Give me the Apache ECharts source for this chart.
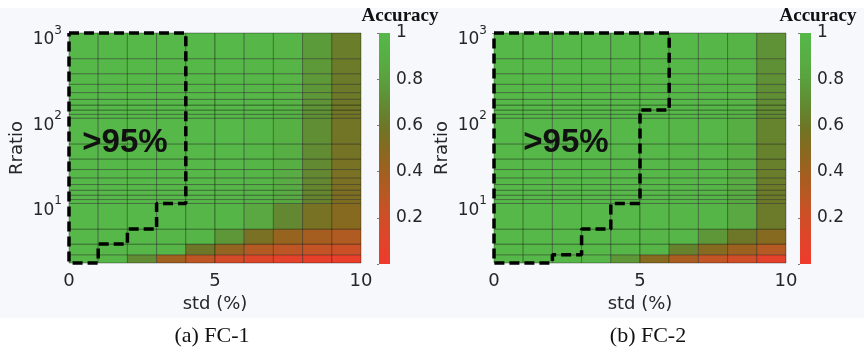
<!DOCTYPE html>
<html>
<head>
<meta charset="utf-8">
<script src="https://cdn.jsdelivr.net/npm/echarts@6/dist/echarts.min.js"></script>
<style>
html,body{margin:0;padding:0;background:#fff;}
#main{width:864px;height:350px;}
</style>
</head>
<body>
<div id="main"></div>
<script>
// std (%) bin edges, 1 column per percent
const stdEdges = [0, 1, 2, 3, 4, 5, 6, 7, 8, 9, 10];
// Rratio row edges (bottom -> top)
const ratioEdges = [2, 2.5, 3.333, 5, 10, 11.11, 12.5, 14.29, 16.67, 20, 25, 33.33, 50,
    100, 111.1, 125, 142.9, 166.7, 200, 250, 333.3, 500, 1000];

// accuracy per cell, one row per ratio bin (bottom -> top), one value per std bin
const fc1Acc = [
    [1.00, 0.98, 0.70, 0.40, 0.28, 0.17, 0.12, 0.08, 0.06, 0.04],
    [1.00, 1.00, 0.99, 0.97, 0.60, 0.45, 0.33, 0.28, 0.25, 0.22],
    [1.00, 1.00, 1.00, 0.99, 0.97, 0.75, 0.55, 0.44, 0.38, 0.34],
    [1.00, 1.00, 1.00, 1.00, 0.99, 0.97, 0.85, 0.68, 0.56, 0.50],
    [1.00, 1.00, 1.00, 1.00, 1.00, 0.99, 0.96, 0.86, 0.66, 0.53],
    [1.00, 1.00, 1.00, 1.00, 1.00, 0.99, 0.96, 0.86, 0.66, 0.53],
    [1.00, 1.00, 1.00, 1.00, 1.00, 0.99, 0.96, 0.87, 0.67, 0.54],
    [1.00, 1.00, 1.00, 1.00, 1.00, 0.99, 0.96, 0.87, 0.67, 0.54],
    [1.00, 1.00, 1.00, 1.00, 1.00, 0.99, 0.97, 0.88, 0.68, 0.55],
    [1.00, 1.00, 1.00, 1.00, 1.00, 0.99, 0.97, 0.88, 0.68, 0.55],
    [1.00, 1.00, 1.00, 1.00, 1.00, 1.00, 0.97, 0.89, 0.69, 0.56],
    [1.00, 1.00, 1.00, 1.00, 1.00, 1.00, 0.97, 0.90, 0.70, 0.57],
    [1.00, 1.00, 1.00, 1.00, 1.00, 1.00, 0.97, 0.91, 0.71, 0.58],
    [1.00, 1.00, 1.00, 1.00, 1.00, 1.00, 0.98, 0.93, 0.73, 0.59],
    [1.00, 1.00, 1.00, 1.00, 1.00, 1.00, 0.98, 0.93, 0.73, 0.59],
    [1.00, 1.00, 1.00, 1.00, 1.00, 1.00, 0.98, 0.93, 0.74, 0.60],
    [1.00, 1.00, 1.00, 1.00, 1.00, 1.00, 0.98, 0.94, 0.74, 0.60],
    [1.00, 1.00, 1.00, 1.00, 1.00, 1.00, 0.98, 0.94, 0.75, 0.61],
    [1.00, 1.00, 1.00, 1.00, 1.00, 1.00, 0.98, 0.94, 0.75, 0.61],
    [1.00, 1.00, 1.00, 1.00, 1.00, 1.00, 0.98, 0.95, 0.76, 0.62],
    [1.00, 1.00, 1.00, 1.00, 1.00, 1.00, 0.98, 0.95, 0.76, 0.62],
    [1.00, 1.00, 1.00, 1.00, 1.00, 1.00, 0.98, 0.95, 0.77, 0.63]
];
const fc2Acc = [
    [1.00, 1.00, 0.99, 0.98, 0.75, 0.50, 0.36, 0.26, 0.20, 0.08],
    [1.00, 1.00, 1.00, 1.00, 0.99, 0.97, 0.65, 0.50, 0.41, 0.32],
    [1.00, 1.00, 1.00, 1.00, 1.00, 0.99, 0.98, 0.75, 0.60, 0.50],
    [1.00, 1.00, 1.00, 1.00, 1.00, 1.00, 0.99, 0.97, 0.85, 0.62],
    [1.00, 1.00, 1.00, 1.00, 1.00, 1.00, 0.99, 0.97, 0.86, 0.61],
    [1.00, 1.00, 1.00, 1.00, 1.00, 1.00, 0.99, 0.97, 0.86, 0.61],
    [1.00, 1.00, 1.00, 1.00, 1.00, 1.00, 0.99, 0.97, 0.87, 0.62],
    [1.00, 1.00, 1.00, 1.00, 1.00, 1.00, 0.99, 0.97, 0.87, 0.62],
    [1.00, 1.00, 1.00, 1.00, 1.00, 1.00, 0.99, 0.98, 0.88, 0.63],
    [1.00, 1.00, 1.00, 1.00, 1.00, 1.00, 0.99, 0.98, 0.88, 0.63],
    [1.00, 1.00, 1.00, 1.00, 1.00, 1.00, 0.99, 0.98, 0.89, 0.64],
    [1.00, 1.00, 1.00, 1.00, 1.00, 1.00, 0.99, 0.98, 0.89, 0.65],
    [1.00, 1.00, 1.00, 1.00, 1.00, 1.00, 0.99, 0.98, 0.90, 0.66],
    [1.00, 1.00, 1.00, 1.00, 1.00, 1.00, 1.00, 0.98, 0.93, 0.69],
    [1.00, 1.00, 1.00, 1.00, 1.00, 1.00, 1.00, 0.98, 0.93, 0.69],
    [1.00, 1.00, 1.00, 1.00, 1.00, 1.00, 1.00, 0.98, 0.94, 0.70],
    [1.00, 1.00, 1.00, 1.00, 1.00, 1.00, 1.00, 0.99, 0.94, 0.70],
    [1.00, 1.00, 1.00, 1.00, 1.00, 1.00, 1.00, 0.99, 0.95, 0.71],
    [1.00, 1.00, 1.00, 1.00, 1.00, 1.00, 1.00, 0.99, 0.95, 0.71],
    [1.00, 1.00, 1.00, 1.00, 1.00, 1.00, 1.00, 0.99, 0.95, 0.72],
    [1.00, 1.00, 1.00, 1.00, 1.00, 1.00, 1.00, 0.99, 0.96, 0.72],
    [1.00, 1.00, 1.00, 1.00, 1.00, 1.00, 1.00, 0.99, 0.96, 0.73]
];

// >95% region outlines, [std, ratio]
const fc1Border = [[0, 1000], [4, 1000], [4, 10], [3, 10], [3, 5], [2, 5], [2, 3.333],
    [1, 3.333], [1, 2], [0, 2], [0, 1000]];
const fc2Border = [[0, 1000], [6, 1000], [6, 125], [5, 125], [5, 10], [4, 10], [4, 5],
    [3, 5], [3, 2.5], [2, 2.5], [2, 2], [0, 2], [0, 1000]];

const xTicks = [0, 5, 10];
const barRange = [0, 1];
const accColors = ['#ee3b2c', '#e1442a', '#cf4e27', '#b95823', '#a0601f', '#866a20',
    '#6d7727', '#618c33', '#5aa13d', '#57af44', '#56b848'];

const labelFont = 'DejaVu Sans';
const labelColor = '#262626';

function toCells(acc) {
    const cells = [];
    acc.forEach((row, r) => {
        row.forEach((v, c) => {
            cells.push([stdEdges[c], stdEdges[c + 1], ratioEdges[r], ratioEdges[r + 1], v]);
        });
    });
    return cells;
}

function renderCell(params, api) {
    const p0 = api.coord([api.value(0), api.value(3)]);
    const p1 = api.coord([api.value(1), api.value(2)]);
    return {
        type: 'rect',
        shape: {x: p0[0], y: p0[1], width: p1[0] - p0[0], height: p1[1] - p0[1]},
        style: {fill: api.visual('color'), stroke: 'rgba(0,0,0,0.32)', lineWidth: 1}
    };
}

function renderBar(params, api) {
    const p0 = api.coord([api.value(0), api.value(3)]);
    const p1 = api.coord([api.value(1), api.value(2)]);
    const stops = accColors.map((c, i) => ({offset: i / (accColors.length - 1), color: c}));
    return {
        type: 'rect',
        shape: {x: p0[0], y: p0[1], width: p1[0] - p0[0], height: p1[1] - p0[1]},
        style: {fill: new echarts.graphic.LinearGradient(0, 1, 0, 0, stops)}
    };
}

function heatX(gridIndex) {
    return {
        gridIndex: gridIndex, type: 'value', min: 0, max: 10, interval: 5,
        name: 'std (%)', nameLocation: 'middle', nameGap: 30,
        nameTextStyle: {fontFamily: labelFont, fontSize: 18, color: labelColor},
        axisLine: {show: false}, axisTick: {show: false}, splitLine: {show: false},
        axisLabel: {margin: 9, fontFamily: labelFont, fontSize: 18, color: labelColor,
            formatter: v => xTicks.indexOf(v) >= 0 ? String(v) : ''}
    };
}

function heatY(gridIndex) {
    return {
        gridIndex: gridIndex, type: 'log', logBase: 10, min: 2, max: 1000,
        name: 'Rratio', nameLocation: 'middle', nameGap: 43,
        nameTextStyle: {fontFamily: labelFont, fontSize: 18, color: labelColor},
        axisLine: {show: false}, axisTick: {show: false}, splitLine: {show: false},
        axisLabel: {
            margin: 7, padding: [7, 0, 0, 0],
            formatter: v => {
                const e = Math.log10(v);
                return Math.abs(e - Math.round(e)) < 1e-6 ? '{b|10}{sup|' + Math.round(e) + '}' : '';
            },
            rich: {
                b: {fontFamily: labelFont, fontSize: 17, color: labelColor, lineHeight: 24, verticalAlign: 'bottom'},
                sup: {fontFamily: labelFont, fontSize: 12, color: labelColor, lineHeight: 24, verticalAlign: 'top'}
            }
        }
    };
}

function barX(gridIndex) {
    return {gridIndex: gridIndex, type: 'value', min: 0, max: 1, show: false};
}

function barY(gridIndex) {
    return {
        gridIndex: gridIndex, type: 'value', min: 0, max: 1, interval: 0.2, position: 'right',
        axisLine: {show: false}, splitLine: {show: false},
        axisTick: {show: true, inside: true, length: 2, lineStyle: {color: '#777'}},
        axisLabel: {margin: 6, fontFamily: labelFont, fontSize: 17, color: labelColor,
            formatter: v => v === 0 ? '' : String(v)}
    };
}

function outline(data, xi, yi) {
    return {
        type: 'line', xAxisIndex: xi, yAxisIndex: yi, data: data, clip: false,
        symbol: 'none', silent: true, z: 5,
        lineStyle: {color: '#000', width: 3.5, type: [10, 5]}
    };
}

const chart = echarts.init(document.getElementById('main'), null, {renderer: 'canvas'});

const option = {
    backgroundColor: '#fff',
    animation: false,
    grid: [
        {left: 69, top: 33, width: 292, height: 230},
        {left: 379, top: 33, width: 11, height: 231},
        {left: 494, top: 33, width: 292, height: 230},
        {left: 800, top: 33, width: 11, height: 231}
    ],
    xAxis: [heatX(0), barX(1), heatX(2), barX(3)],
    yAxis: [heatY(0), barY(1), heatY(2), barY(3)],
    visualMap: {
        type: 'continuous', show: false, seriesIndex: [0, 3], dimension: 4,
        min: 0, max: 1, inRange: {color: accColors}
    },
    series: [
        {type: 'custom', xAxisIndex: 0, yAxisIndex: 0, renderItem: renderCell,
            encode: {x: [0, 1], y: [2, 3]}, data: toCells(fc1Acc), silent: true},
        outline(fc1Border, 0, 0),
        {type: 'custom', xAxisIndex: 1, yAxisIndex: 1, renderItem: renderBar,
            encode: {x: [0, 1], y: [2, 3]}, data: [[0, 1, barRange[0], barRange[1]]], silent: true},
        {type: 'custom', xAxisIndex: 2, yAxisIndex: 2, renderItem: renderCell,
            encode: {x: [0, 1], y: [2, 3]}, data: toCells(fc2Acc), silent: true},
        outline(fc2Border, 2, 2),
        {type: 'custom', xAxisIndex: 3, yAxisIndex: 3, renderItem: renderBar,
            encode: {x: [0, 1], y: [2, 3]}, data: [[0, 1, barRange[0], barRange[1]]], silent: true}
    ],
    graphic: [
        {type: 'rect', left: 0, top: 8, z: -10, silent: true,
            shape: {width: 864, height: 310}, style: {fill: '#f7f8fc'}},
        {type: 'text', x: 125, y: 143, z: 10, style: {text: '>95%', font: 'bold 33px "Liberation Sans"',
            fill: '#111', align: 'center', verticalAlign: 'middle'}},
        {type: 'text', x: 566, y: 143, z: 10, style: {text: '>95%', font: 'bold 33px "Liberation Sans"',
            fill: '#111', align: 'center', verticalAlign: 'middle'}},
        {type: 'text', x: 400, y: 16, style: {text: 'Accuracy', font: 'bold 19px "Liberation Serif"',
            fill: '#111', align: 'center', verticalAlign: 'middle'}},
        {type: 'text', x: 818, y: 16, style: {text: 'Accuracy', font: 'bold 19px "Liberation Serif"',
            fill: '#111', align: 'center', verticalAlign: 'middle'}},
        {type: 'text', x: 212, y: 336, style: {text: '(a) FC-1', font: '22px "Liberation Serif"',
            fill: '#111', align: 'center', verticalAlign: 'middle'}},
        {type: 'text', x: 648, y: 336, style: {text: '(b) FC-2', font: '22px "Liberation Serif"',
            fill: '#111', align: 'center', verticalAlign: 'middle'}}
    ]
};

chart.setOption(option);
</script>
</body>
</html>
